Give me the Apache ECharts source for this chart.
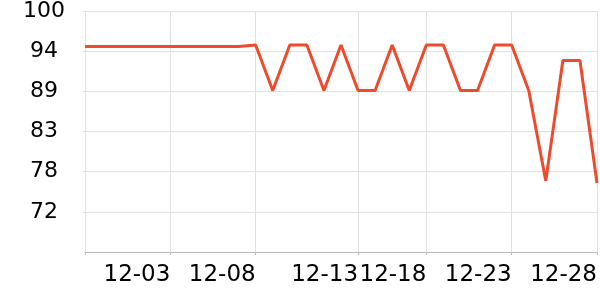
<!DOCTYPE html>
<html>
<head>
<meta charset="utf-8">
<script src="https://cdn.jsdelivr.net/npm/echarts@6/dist/echarts.min.js"></script>
<style>html,body{margin:0;padding:0;background:#fff}#c{width:600px;height:300px}</style>
</head>
<body>
<div id="c"></div>
<script>
const categories = ['11-28','11-29','11-30','12-01','12-02','12-03','12-04','12-05','12-06','12-07',
  '12-08','12-09','12-10','12-10','12-11','12-12','12-13','12-14','12-16','12-17',
  '12-18','12-19','12-20','12-21','12-22','12-23','12-24','12-25','12-26','12-27','12-28'];
const values = [95.1,95.1,95.1,95.1,95.1,95.1,95.1,95.1,95.1,95.1,
  95.3,89.0,95.3,95.3,89.0,95.3,89.0,89.0,95.3,89.0,
  95.3,95.3,89.0,89.0,95.3,95.3,89.0,76.5,93.15,93.15,76.2];
const xTickLabels = ['12-03','12-08','12-13','12-18','12-23','12-28'];
const yStep = 100 / 18;

const chart = echarts.init(document.getElementById('c'), null, {renderer: 'canvas'});
chart.setOption({
  animation: false,
  grid: {left: 85, right: 2, top: 10, bottom: 48},
  xAxis: {
    type: 'category',
    data: categories,
    boundaryGap: false,
    axisLine: {show: true, lineStyle: {color: '#bbb', width: 1}},
    axisTick: {show: true, length: 3, lineStyle: {color: '#bbb'},
      interval: (i, v) => i === 0 || xTickLabels.includes(v)},
    splitLine: {show: true, lineStyle: {color: '#e0e0e0', width: 1},
      interval: (i, v) => i === 0 || xTickLabels.includes(v)},
    axisLabel: {
      interval: (i, v) => i !== 0 && xTickLabels.includes(v),
      align: 'right', margin: 12,
      fontFamily: 'DejaVu Sans', fontSize: 23, color: '#000'
    }
  },
  yAxis: {
    type: 'value',
    min: 12 * yStep, max: 18 * yStep, interval: yStep,
    axisLine: {show: false},
    axisTick: {show: true, length: 2, lineStyle: {color: '#ddd'}},
    splitLine: {show: true, lineStyle: {color: '#e0e0e0', width: 1}},
    axisLabel: {
      showMinLabel: false,
      align: 'center', margin: 41,
      fontFamily: 'DejaVu Sans', fontSize: 22, color: '#000',
      formatter: v => String(Math.round(v))
    }
  },
  series: [{
    type: 'line',
    data: values,
    symbol: 'none',
    lineStyle: {color: '#ee4a2c', width: 3},
    itemStyle: {color: '#ee4a2c'}
  }]
});
</script>
</body>
</html>
